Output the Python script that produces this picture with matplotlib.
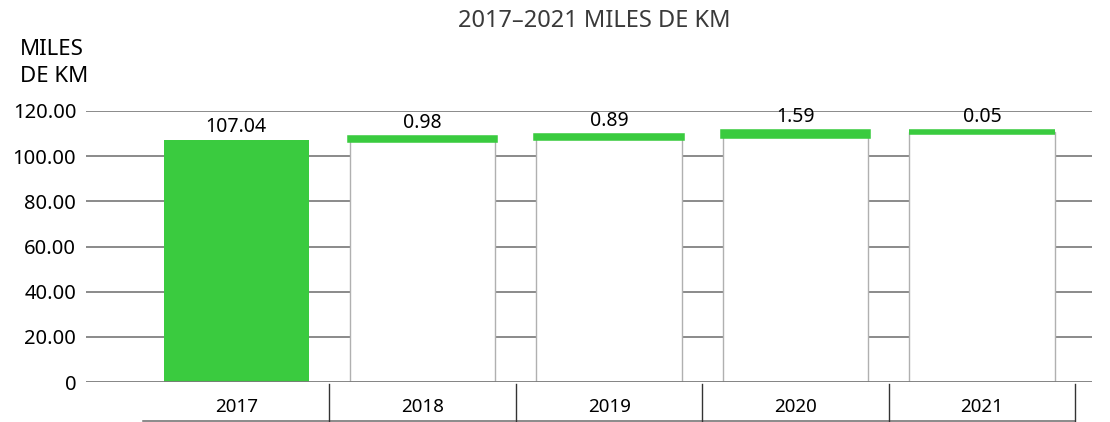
import matplotlib.pyplot as plt
from matplotlib.ticker import FuncFormatter

# Kilometres (thousands): 2017 total, then the added amount per year
years = ['2017', '2018', '2019', '2020', '2021']
base_total = 107.04
increments = [0.98, 0.89, 1.59, 0.05]
yticks = [0, 20, 40, 60, 80, 100, 120]

GREEN = '#3ACB3F'
GRID = '#6b6b6b'

plt.rcParams['font.family'] = ['Noto Sans', 'DejaVu Sans']


def tick_fmt(v, pos):
    return '0' if v == 0 else f'{v:.2f}'


def main():
    fig = plt.figure(figsize=(11.10, 4.22), dpi=100)
    ax = fig.add_axes([86 / 1110, 1 - 382 / 422, (1092 - 86) / 1110, (382 - 111) / 422])

    ax.set_xlim(-0.806, 4.59)
    ax.set_ylim(0, 120)
    for s in ax.spines.values():
        s.set_visible(False)

    # horizontal grid
    for y in yticks[1:]:
        ax.axhline(y, color=GRID, lw=1.1, zorder=1)
    ax.axhline(0, color='#7a7a7a', lw=2.0, zorder=4)

    ax.set_yticks(yticks)
    ax.yaxis.set_major_formatter(FuncFormatter(tick_fmt))
    ax.tick_params(axis='y', length=0, pad=7, labelsize=14.5)
    ax.set_xticks([])

    width = 0.78
    # first year: full green bar
    ax.bar(0, base_total, width=width, color=GREEN, zorder=2)
    ax.text(0, base_total + 1.5, f'{base_total:.2f}', ha='center', va='bottom',
            fontsize=14)

    # following years: previous total in white, added amount in green on top
    total = base_total
    for i, inc in enumerate(increments, start=1):
        ax.bar(i, total, width=width, color='white', edgecolor='#b0b0b0',
               lw=1.0, zorder=2)
        ax.bar(i, inc, bottom=total, width=width, color=GREEN,
               edgecolor=GREEN, lw=4, zorder=3)
        total += inc
        ax.text(i, total + 2.2, f'{inc:.2f}', ha='center', va='bottom',
                fontsize=14)

    # category table under the axis
    y_top, y_bot = -0.9, -17.3
    ax.plot([-0.5, 4.5], [y_bot, y_bot], color=GRID, lw=1.1, clip_on=False)
    for i in range(len(years)):
        ax.plot([i + 0.5, i + 0.5], [y_top, y_bot], color='#333333', lw=1.0,
                clip_on=False)
        ax.text(i, -11, years[i], ha='center', va='center', fontsize=13.5)

    fig.text(594 / 1110, 1 - 21 / 422, '2017–2021 MILES DE KM', ha='center',
             va='center', fontsize=17, color='#3a3a3a')
    fig.text(20 / 1110, 1 - 63 / 422, 'MILES\nDE KM', ha='left', va='center',
             fontsize=16, linespacing=1.4)

    fig.savefig('out.png', dpi=100)


if __name__ == '__main__':
    main()
